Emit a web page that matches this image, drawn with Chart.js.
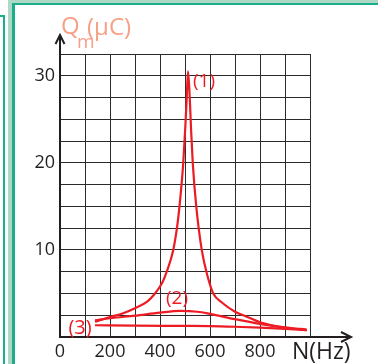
<!DOCTYPE html>
<html>
<head>
<meta charset="utf-8">
<script src="https://cdn.jsdelivr.net/npm/chart.js@4.4.4/dist/chart.umd.min.js"></script>
<style>
  html, body { margin: 0; padding: 0; background: #fff; }
  #wrap { position: relative; width: 378px; height: 364px; }
</style>
</head>
<body>
<div id="wrap"><canvas id="chart"></canvas></div>
<script>
// resonance curves, charge amplitude (µC) vs frequency (Hz)
const freq1 = [140, 200, 250, 300, 350, 380, 410, 427, 453, 470, 483, 493, 501, 507, 512, 519, 524, 531, 545, 567, 590, 613, 650, 700, 733, 800, 900, 987];
const charge1 = [1.75, 2.3, 2.7, 3.3, 4.1, 5, 6.3, 7.5, 10, 13, 16.5, 20, 24, 27.5, 30.5, 27.5, 24, 20, 15, 10, 7, 5, 3.9, 2.9, 2.5, 1.7, 1.1, 0.85];

const freq2 = [140, 200, 300, 400, 480, 550, 600, 700, 800, 900, 987];
const charge2 = [1.9, 2.15, 2.45, 2.8, 3.0, 2.9, 2.65, 2.05, 1.5, 1.05, 0.8];

const freq3 = [140, 300, 500, 600, 700, 800, 900, 987];
const charge3 = [1.35, 1.3, 1.28, 1.26, 1.18, 1.07, 0.93, 0.8];

const xTicks = [0, 200, 400, 600, 800];
const yTicks = [10, 20, 30];

const curveNames = ['(1)', '(2)', '(3)'];
const labelFreq = [576, 468, 80];
const labelCharge = [29.3, 4.4, 1.05];

const RED = '#ed1c24';
const TEAL = '#1aae8c';
const PALE = '#aed8c6';
const INK = '#231f20';
const SALMON = '#f7a088';

const pts = (xs, ys) => xs.map((x, i) => ({ x, y: ys[i] }));

const lineDs = (data) => ({
  data,
  borderColor: RED,
  borderWidth: 2.2,
  pointRadius: 0,
  fill: false,
  cubicInterpolationMode: 'monotone',
});

const decor = {
  id: 'decor',
  beforeDraw(chart) {
    const c = chart.ctx;
    c.save();
    c.fillStyle = '#fff';
    c.fillRect(0, 0, chart.width, chart.height);
    // page frames
    c.fillStyle = PALE;
    c.fillRect(8, 0, 4, chart.height);
    c.fillRect(8, 0, chart.width, 3);
    c.fillStyle = TEAL;
    c.fillRect(12, 3, 3, chart.height);
    c.fillRect(12, 3, chart.width, 2);
    c.fillRect(0, 15, 5, 2);
    c.fillRect(3, 15, 2, chart.height);
    c.restore();
  },
  afterDraw(chart) {
    const c = chart.ctx;
    const { left, top, bottom, right } = chart.chartArea;
    const xs = chart.scales.x, ys = chart.scales.y;
    c.save();
    c.strokeStyle = INK;
    c.lineWidth = 2;
    // y axis arrow
    c.beginPath();
    c.moveTo(left, top);
    c.lineTo(left, 36);
    c.stroke();
    c.beginPath();
    c.moveTo(left - 4.5, 44);
    c.lineTo(left, 35);
    c.lineTo(left + 4.5, 44);
    c.stroke();
    // x axis arrow
    c.beginPath();
    c.moveTo(right, bottom);
    c.lineTo(350, bottom);
    c.stroke();
    c.beginPath();
    c.moveTo(341, bottom - 5);
    c.lineTo(351, bottom);
    c.lineTo(341, bottom + 5);
    c.stroke();

    // axis titles
    c.fillStyle = SALMON;
    c.textBaseline = 'alphabetic';
    c.textAlign = 'left';
    c.font = '24px "Open Sans"';
    c.fillText('Q', 61, 34);
    c.font = '19px "Open Sans"';
    c.fillText('m', 77, 48);
    c.font = '24px "Open Sans"';
    c.fillText('(µC)', 87, 35);

    c.fillStyle = INK;
    c.font = '23px "Open Sans"';
    c.fillText('N(Hz)', 292, 359);

    // curve labels
    c.fillStyle = RED;
    c.textAlign = 'center';
    c.textBaseline = 'middle';
    curveNames.forEach((t, i) => {
      c.font = (i === 2 ? '20px' : '19px') + ' "Open Sans"';
      c.fillText(t, xs.getPixelForValue(labelFreq[i]), ys.getPixelForValue(labelCharge[i]));
    });
    c.restore();
  },
};

new Chart(document.getElementById('chart'), {
  type: 'line',
  data: {
    datasets: [
      lineDs(pts(freq3, charge3)),
      lineDs(pts(freq2, charge2)),
      lineDs(pts(freq1, charge1)),
    ],
  },
  options: {
    responsive: true,
    maintainAspectRatio: false,
    animation: false,
    events: [],
    layout: { padding: { left: 0, top: 54, right: 68, bottom: 0 } },
    plugins: { legend: { display: false }, tooltip: { enabled: false } },
    scales: {
      x: {
        type: 'linear',
        min: 0,
        max: 1000,
        afterFit: (s) => { s.height = 27; },
        afterBuildTicks: (s) => { s.ticks = Array.from({ length: 11 }, (_, i) => ({ value: i * 100 })); },
        grid: { color: '#2b2b2b', lineWidth: 1, drawTicks: false },
        border: { color: INK, width: 2 },
        ticks: {
          color: INK,
          padding: 4,
          maxRotation: 0,
          autoSkip: false,
          font: { family: 'Open Sans', size: 18 },
          callback: (v) => (xTicks.includes(v) ? String(v) : ''),
        },
      },
      y: {
        min: 0,
        max: 32.5,
        afterFit: (s) => { s.width = 60; },
        afterBuildTicks: (s) => { s.ticks = Array.from({ length: 14 }, (_, i) => ({ value: i * 2.5 })); },
        grid: { color: '#2b2b2b', lineWidth: 1, drawTicks: false },
        border: { color: INK, width: 2 },
        ticks: {
          color: INK,
          padding: 5,
          autoSkip: false,
          font: { family: 'Open Sans', size: 18 },
          callback: (v) => (yTicks.includes(v) ? String(v) : ''),
        },
      },
    },
  },
  plugins: [decor],
});
</script>
</body>
</html>
